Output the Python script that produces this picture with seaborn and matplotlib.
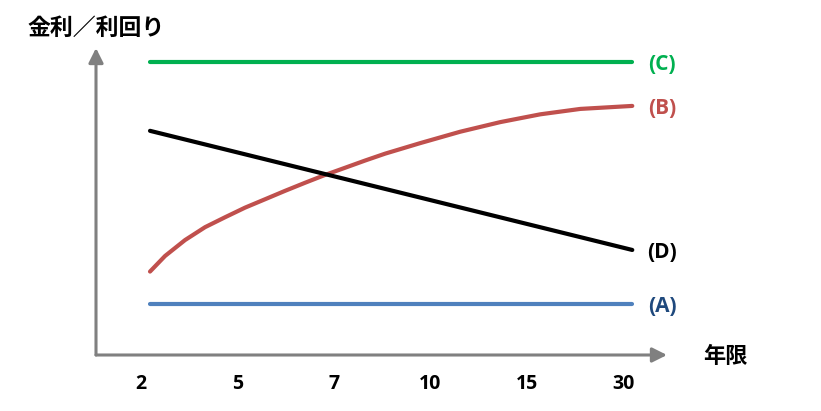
import matplotlib
matplotlib.use("Agg")
import matplotlib.pyplot as plt
import matplotlib.transforms as mtransforms
import numpy as np
import pandas as pd
import seaborn as sns

# tick labels (maturity, years) at evenly spaced category slots 0..5
years = ["2", "5", "7", "10", "15", "30"]

# schematic rate levels (arbitrary units) sampled along the category axis
flat_pos = [0.0, 5.0]
c_val = [9.77, 9.77]
a_val = [1.70, 1.70]
d_pos = [0.0, 5.0]
d_val = [7.47, 3.50]
b_pos = [0.0, 0.156, 0.363, 0.571, 0.778, 0.985, 1.193, 1.400, 1.608, 1.815,
         2.023, 2.230, 2.438, 2.801, 3.216, 3.631, 4.046, 4.461, 5.0]
b_val = [2.78, 3.30, 3.83, 4.26, 4.59, 4.91, 5.19, 5.47, 5.74, 6.00,
         6.24, 6.48, 6.71, 7.06, 7.44, 7.76, 8.02, 8.20, 8.30]

series_names = ["(C)", "(B)", "(D)", "(A)"]
line_colors = ["#00B050", "#C0504D", "#000000", "#4F81BD"]
text_colors = ["#00B050", "#C0504D", "#000000", "#1F497D"]

sns.set_theme(style="white")
plt.rcParams["font.family"] = ["Open Sans", "Noto Sans CJK JP", "DejaVu Sans"]

frame = pd.concat([
    pd.DataFrame({"x": flat_pos, "y": c_val, "s": "(C)"}),
    pd.DataFrame({"x": b_pos, "y": b_val, "s": "(B)"}),
    pd.DataFrame({"x": d_pos, "y": d_val, "s": "(D)"}),
    pd.DataFrame({"x": flat_pos, "y": a_val, "s": "(A)"}),
])

fig = plt.figure(figsize=(8.21, 4.11), dpi=100)
ax = fig.add_axes([96 / 821, 56 / 411, 571 / 821, 307 / 411])

for name, color in zip(series_names, line_colors):
    sub = frame[frame["s"] == name]
    sns.lineplot(data=sub, x="x", y="y", color=color, linewidth=3, ax=ax,
                 sort=False, estimator=None)

ax.set_xlim(-0.56, 5.36)
ax.set_ylim(0, 10.23)
for spine in ax.spines.values():
    spine.set_visible(False)
ax.set_xlabel("")
ax.set_ylabel("")
ax.set_yticks([])
ax.set_xticks(range(len(years)))
ax.set_xticklabels(years, fontsize=14, fontweight="bold", color="black")
ax.tick_params(axis="x", length=0, pad=14)
shift = mtransforms.ScaledTranslation(-9 / 100, 0, fig.dpi_scale_trans)
for lbl in ax.get_xticklabels():
    lbl.set_transform(lbl.get_transform() + shift)

# series labels at the right end of each line
ends = [c_val[-1], b_val[-1], d_val[-1], a_val[-1]]
for name, yv, tc in zip(series_names, ends, text_colors):
    ax.annotate(name, xy=(5.0, yv), xytext=(30, -3), textcoords="offset pixels",
                ha="center", va="center", fontsize=15, fontweight="bold", color=tc)

# axes with arrowheads
axis_grey = "#808080"
ax.annotate("", xy=(1.0, 0), xytext=(0, 0), xycoords="axes fraction",
            arrowprops=dict(arrowstyle="-|>", color=axis_grey, lw=2.2, mutation_scale=22,
                            shrinkA=0, shrinkB=0), annotation_clip=False)
ax.annotate("", xy=(0, 1.0), xytext=(0, 0), xycoords="axes fraction",
            arrowprops=dict(arrowstyle="-|>", color=axis_grey, lw=2.2, mutation_scale=22,
                            shrinkA=0, shrinkB=0), annotation_clip=False)

fig.text(96 / 821, 1 - 29 / 411, "金利／利回り", ha="center", va="center",
         fontsize=16.5, fontweight="bold", color="black")
fig.text(703 / 821, 1 - 357 / 411, "年限", ha="left", va="center",
         fontsize=16, fontweight="bold", color="black")

fig.savefig("out.png", dpi=100, facecolor="white")
plt.close(fig)
